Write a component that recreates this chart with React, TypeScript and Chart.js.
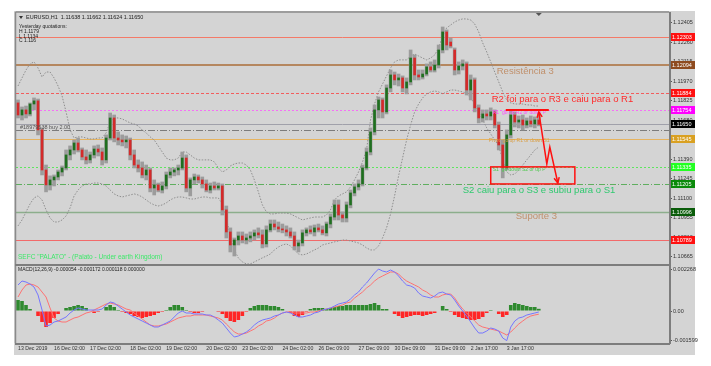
import React, { useEffect, useRef } from "react";
import { Chart, registerables } from "chart.js";

Chart.register(...registerables);

const FONT = '"Liberation Sans", Arial, sans-serif';

// ---- categories (one slot per candle, plus empty chart-shift slots on the right)
const SLOT_COUNT = 163;
const categories = Array.from({ length: SLOT_COUNT }, (_, i) => `slot ${i}`);

// ---- time axis labels
const timeLabels = [
  "13 Dec 2019", "16 Dec 02:00", "17 Dec 02:00", "18 Dec 02:00", "19 Dec 02:00",
  "20 Dec 02:00", "23 Dec 02:00", "24 Dec 02:00", "26 Dec 09:00", "27 Dec 09:00",
  "30 Dec 09:00", "31 Dec 09:00", "2 Jan 17:00", "3 Jan 17:00",
];
const timeLabelSlots = [0, 9, 18, 28, 37, 47, 56, 66, 75, 85, 94, 104, 113, 122];

// ---- EURUSD H1 candles
const opens = [
  1.11810, 1.11720, 1.11758, 1.11728, 1.11802, 1.11825, 1.11609, 1.11311, 1.11200, 1.11237,
  1.11259, 1.11296, 1.11326, 1.11423, 1.11460, 1.11512, 1.11460, 1.11408, 1.11386, 1.11423,
  1.11467, 1.11445, 1.11386, 1.11549, 1.11698, 1.11549, 1.11534, 1.11520, 1.11534, 1.11423,
  1.11348, 1.11326, 1.11274, 1.11311, 1.11177, 1.11200, 1.11162, 1.11192, 1.11274, 1.11296,
  1.11311, 1.11326, 1.11400, 1.11177, 1.11237, 1.11259, 1.11237, 1.11207, 1.11162, 1.11192,
  1.11177, 1.11192, 1.11014, 1.10850, 1.10753, 1.10790, 1.10820, 1.10790, 1.10805, 1.10820,
  1.10843, 1.10828, 1.10761, 1.10865, 1.10909, 1.10887, 1.10872, 1.10865, 1.10850, 1.10820,
  1.10746, 1.10768, 1.10843, 1.10865, 1.10850, 1.10880, 1.10865, 1.10843, 1.10909, 1.10961,
  1.11051, 1.10976, 1.10954, 1.11051, 1.11140, 1.11185, 1.11207, 1.11326, 1.11445, 1.11594,
  1.11758, 1.11832, 1.11743, 1.11921, 1.12018, 1.11981, 1.11996, 1.11921, 1.11966, 1.12144,
  1.12018, 1.12003, 1.12025, 1.12078, 1.12055, 1.12092, 1.12204, 1.12338, 1.12263, 1.12204,
  1.12055, 1.12085, 1.12100, 1.11906, 1.11981, 1.11773, 1.11698, 1.11728, 1.11713, 1.11743,
  1.11646, 1.11497, 1.11326, 1.11572, 1.11720, 1.11668, 1.11683, 1.11646, 1.11676, 1.11653,
  1.11683,
];
const highs = [
  1.11832, 1.11780, 1.11787, 1.11810, 1.11847, 1.11839, 1.11624, 1.11348, 1.11267, 1.11274,
  1.11311, 1.11341, 1.11460, 1.11490, 1.11534, 1.11549, 1.11475, 1.11460, 1.11445, 1.11490,
  1.11497, 1.11475, 1.11572, 1.11735, 1.11720, 1.11594, 1.11572, 1.11564, 1.11549, 1.11460,
  1.11386, 1.11371, 1.11348, 1.11326, 1.11237, 1.11214, 1.11222, 1.11296, 1.11326, 1.11326,
  1.11348, 1.11445, 1.11423, 1.11252, 1.11281, 1.11274, 1.11259, 1.11237, 1.11214, 1.11222,
  1.11214, 1.11207, 1.11043, 1.10880, 1.10805, 1.10850, 1.10850, 1.10835, 1.10850, 1.10865,
  1.10880, 1.10865, 1.10895, 1.10939, 1.10939, 1.10924, 1.10909, 1.10895, 1.10880, 1.10850,
  1.10790, 1.10865, 1.10880, 1.10895, 1.10902, 1.10909, 1.10895, 1.10924, 1.10984, 1.11088,
  1.11088, 1.10999, 1.11073, 1.11162, 1.11207, 1.11237, 1.11348, 1.11475, 1.11624, 1.11795,
  1.11854, 1.11847, 1.11944, 1.12055, 1.12040, 1.12025, 1.12011, 1.11996, 1.12204, 1.12167,
  1.12055, 1.12055, 1.12100, 1.12115, 1.12130, 1.12241, 1.12375, 1.12353, 1.12293, 1.12219,
  1.12115, 1.12130, 1.12115, 1.12018, 1.11996, 1.11795, 1.11758, 1.11758, 1.11773, 1.11758,
  1.11668, 1.11534, 1.11609, 1.11750, 1.11743, 1.11713, 1.11720, 1.11698, 1.11713, 1.11706,
  1.11735,
];
const lows = [
  1.11698, 1.11683, 1.11698, 1.11713, 1.11758, 1.11572, 1.11274, 1.11148, 1.11162, 1.11192,
  1.11237, 1.11267, 1.11311, 1.11386, 1.11430, 1.11445, 1.11386, 1.11356, 1.11363, 1.11400,
  1.11415, 1.11348, 1.11363, 1.11534, 1.11520, 1.11497, 1.11490, 1.11475, 1.11386, 1.11326,
  1.11296, 1.11252, 1.11237, 1.11148, 1.11125, 1.11148, 1.11140, 1.11170, 1.11252, 1.11267,
  1.11274, 1.11311, 1.11148, 1.11118, 1.11207, 1.11214, 1.11177, 1.11148, 1.11140, 1.11162,
  1.11162, 1.10976, 1.10805, 1.10701, 1.10671, 1.10753, 1.10768, 1.10761, 1.10776, 1.10790,
  1.10805, 1.10731, 1.10738, 1.10850, 1.10865, 1.10850, 1.10843, 1.10820, 1.10805, 1.10716,
  1.10701, 1.10746, 1.10820, 1.10835, 1.10820, 1.10850, 1.10828, 1.10820, 1.10880, 1.10939,
  1.10939, 1.10924, 1.10924, 1.11029, 1.11118, 1.11162, 1.11192, 1.11311, 1.11423, 1.11572,
  1.11698, 1.11698, 1.11728, 1.11892, 1.11944, 1.11936, 1.11892, 1.11877, 1.11944, 1.11981,
  1.11981, 1.11988, 1.12011, 1.12040, 1.12040, 1.12070, 1.12182, 1.12204, 1.12219, 1.12018,
  1.12025, 1.12055, 1.11869, 1.11832, 1.11743, 1.11661, 1.11668, 1.11683, 1.11683, 1.11624,
  1.11460, 1.11252, 1.11311, 1.11549, 1.11631, 1.11624, 1.11609, 1.11624, 1.11631, 1.11624,
  1.11639,
];
const closes = [
  1.11720, 1.11758, 1.11728, 1.11802, 1.11825, 1.11609, 1.11311, 1.11200, 1.11237, 1.11259,
  1.11296, 1.11326, 1.11423, 1.11460, 1.11512, 1.11460, 1.11408, 1.11386, 1.11423, 1.11467,
  1.11445, 1.11386, 1.11549, 1.11698, 1.11549, 1.11534, 1.11520, 1.11534, 1.11423, 1.11348,
  1.11326, 1.11274, 1.11311, 1.11177, 1.11200, 1.11162, 1.11192, 1.11274, 1.11296, 1.11311,
  1.11326, 1.11400, 1.11177, 1.11237, 1.11259, 1.11237, 1.11207, 1.11162, 1.11192, 1.11177,
  1.11192, 1.11014, 1.10850, 1.10753, 1.10790, 1.10820, 1.10790, 1.10805, 1.10820, 1.10843,
  1.10828, 1.10761, 1.10865, 1.10909, 1.10887, 1.10872, 1.10865, 1.10850, 1.10820, 1.10746,
  1.10768, 1.10843, 1.10865, 1.10850, 1.10880, 1.10865, 1.10843, 1.10909, 1.10961, 1.11051,
  1.10976, 1.10954, 1.11051, 1.11140, 1.11185, 1.11207, 1.11326, 1.11445, 1.11594, 1.11758,
  1.11832, 1.11743, 1.11921, 1.12018, 1.11981, 1.11996, 1.11921, 1.11966, 1.12144, 1.12018,
  1.12003, 1.12025, 1.12078, 1.12055, 1.12092, 1.12204, 1.12338, 1.12241, 1.12234, 1.12055,
  1.12085, 1.12100, 1.11906, 1.11981, 1.11773, 1.11698, 1.11728, 1.11713, 1.11743, 1.11646,
  1.11497, 1.11326, 1.11572, 1.11720, 1.11668, 1.11683, 1.11646, 1.11676, 1.11653, 1.11683,
  1.11650,
];

// ---- Bollinger bands (dotted envelopes)
const bandUpper = [
  1.11936, 1.11996, 1.12055, 1.12100, 1.12115, 1.12070, 1.12003, 1.12040, 1.12040, 1.11996,
  1.11936, 1.11862, 1.11743, 1.11609, 1.11549, 1.11557, 1.11557, 1.11549, 1.11542, 1.11542,
  1.11549, 1.11549, 1.11587, 1.11668, 1.11698, 1.11698, 1.11691, 1.11676, 1.11661, 1.11653,
  1.11639, 1.11609, 1.11587, 1.11557, 1.11534, 1.11490, 1.11445, 1.11400, 1.11386, 1.11386,
  1.11400, 1.11445, 1.11445, 1.11423, 1.11400, 1.11386, 1.11386, 1.11386, 1.11386, 1.11371,
  1.11326, 1.11296, 1.11311, 1.11341, 1.11356, 1.11363, 1.11363, 1.11348, 1.11311, 1.11237,
  1.11148, 1.11051, 1.10999, 1.10984, 1.10984, 1.10991, 1.10991, 1.10991, 1.10984, 1.10969,
  1.10954, 1.10939, 1.10947, 1.10954, 1.10961, 1.10961, 1.10961, 1.10976, 1.11014, 1.11088,
  1.11118, 1.11133, 1.11148, 1.11185, 1.11237, 1.11296, 1.11371, 1.11460, 1.11683, 1.11802,
  1.11892, 1.11951, 1.12011, 1.12070, 1.12115, 1.12130, 1.12130, 1.12130, 1.12159, 1.12174,
  1.12159, 1.12144, 1.12130, 1.12144, 1.12167, 1.12219, 1.12308, 1.12368, 1.12390, 1.12412,
  1.12427, 1.12435, 1.12435, 1.12427, 1.12397, 1.12338, 1.12256, 1.12189, 1.12115, 1.12040,
  1.11966, 1.11892, 1.11832, 1.11810, 1.11802, 1.11802, 1.11802, 1.11795, 1.11795, 1.11787,
  1.11787,
];
const bandLower = [
  1.10895, 1.10939, 1.10999, 1.11058, 1.11103, 1.11118, 1.11088, 1.11014, 1.10954, 1.10924,
  1.10924, 1.10939, 1.10969, 1.11029, 1.11118, 1.11162, 1.11192, 1.11207, 1.11207, 1.11214,
  1.11214, 1.11207, 1.11192, 1.11162, 1.11133, 1.11118, 1.11110, 1.11118, 1.11125, 1.11133,
  1.11125, 1.11110, 1.11088, 1.11066, 1.11051, 1.11043, 1.11051, 1.11066, 1.11088, 1.11103,
  1.11110, 1.11110, 1.11103, 1.11095, 1.11095, 1.11103, 1.11110, 1.11110, 1.11103, 1.11103,
  1.11103, 1.11058, 1.10954, 1.10820, 1.10716, 1.10657, 1.10627, 1.10612, 1.10612, 1.10627,
  1.10642, 1.10657, 1.10671, 1.10686, 1.10716, 1.10738, 1.10753, 1.10761, 1.10746, 1.10716,
  1.10686, 1.10679, 1.10686, 1.10701, 1.10716, 1.10731, 1.10753, 1.10761, 1.10768, 1.10776,
  1.10783, 1.10790, 1.10790, 1.10783, 1.10776, 1.10768, 1.10753, 1.10731, 1.10716, 1.10716,
  1.10746, 1.10805, 1.10880, 1.10984, 1.11118, 1.11267, 1.11400, 1.11534, 1.11646, 1.11743,
  1.11802, 1.11847, 1.11877, 1.11892, 1.11899, 1.11892, 1.11877, 1.11892, 1.11906, 1.11906,
  1.11899, 1.11892, 1.11877, 1.11847, 1.11802, 1.11743, 1.11683, 1.11624, 1.11579, 1.11534,
  1.11490, 1.11386, 1.11296, 1.11274, 1.11281, 1.11311, 1.11348, 1.11386, 1.11423, 1.11460,
  1.11482,
];

// ---- MACD(12,26,9)
const macdMain = [
  0.001404, 0.00162, 0.001566, 0.001458, 0.001296, 0.000864, 0.000054, -0.00081, -0.000756, -0.000594,
  -0.00054, -0.000432, -0.000324, -0.000108, 0.000054, 0.000162, 0.000108, 0.000054, 0.000054, 0.000054,
  0.000054, 0.000108, 0.000324, 0.000486, 0.000432, 0.00027, 0.000108, -0.000054, -0.000216, -0.000324,
  -0.000432, -0.00054, -0.000648, -0.000756, -0.000864, -0.000864, -0.000756, -0.000648, -0.00054, -0.000324,
  -0.000108, 0, -0.000108, -0.000108, -0.000162, -0.000162, -0.000162, -0.000216, -0.000216, -0.000324,
  -0.000486, -0.000648, -0.000918, -0.001188, -0.001404, -0.00135, -0.001242, -0.001134, -0.000972, -0.000756,
  -0.000594, -0.000486, -0.000432, -0.000378, -0.00027, -0.000216, -0.000108, -0.000054, -0.000108, -0.000216,
  -0.000324, -0.000324, -0.00027, -0.000216, -0.000108, -0.000054, 0.000054, 0.000108, 0.000162, 0.00027,
  0.000378, 0.000432, 0.000486, 0.000648, 0.000864, 0.001026, 0.001296, 0.001512, 0.001782, 0.002052,
  0.002268, 0.00216, 0.002106, 0.002214, 0.002106, 0.00189, 0.00162, 0.001404, 0.00135, 0.001242,
  0.000972, 0.00081, 0.000756, 0.000702, 0.00081, 0.000972, 0.001026, 0.000918, 0.000864, 0.000594,
  0.00027, 0, -0.00027, -0.000594, -0.000918, -0.001188, -0.001188, -0.00108, -0.000918, -0.000972,
  -0.00108, -0.001458, -0.001599, -0.000864, -0.00054, -0.000378, -0.000324, -0.000216, -0.000162, -0.000108,
  -0.000054,
];
const macdSignal = [
  0.000756, 0.001134, 0.001404, 0.001458, 0.001404, 0.001296, 0.001026, 0.000756, 0.000162, -0.000378,
  -0.00054, -0.000594, -0.000594, -0.000486, -0.000378, -0.000324, -0.000216, -0.000108, -0.000054, 0.000054,
  0.000162, 0.00027, 0.000378, 0.000432, 0.000378, 0.000324, 0.000216, 0.000108, 0.000054, -0.000108,
  -0.00027, -0.000432, -0.000594, -0.000756, -0.00081, -0.00081, -0.000756, -0.000702, -0.000594, -0.000486,
  -0.000378, -0.000324, -0.00027, -0.00027, -0.000216, -0.000216, -0.000216, -0.000216, -0.00027, -0.000324,
  -0.000378, -0.000486, -0.000702, -0.000918, -0.001134, -0.001242, -0.001242, -0.001188, -0.00108, -0.000972,
  -0.00081, -0.000702, -0.00054, -0.000486, -0.000378, -0.000216, -0.000108, -0.000054, -0.000054, -0.000108,
  -0.000108, -0.000108, -0.000108, -0.000054, -0.000054, 0, 0.000054, 0.000108, 0.000162, 0.000216,
  0.00027, 0.000324, 0.000432, 0.000486, 0.000702, 0.000864, 0.001026, 0.001242, 0.001404, 0.00162,
  0.001782, 0.00189, 0.001998, 0.002106, 0.002106, 0.001998, 0.001782, 0.00162, 0.001512, 0.001404,
  0.001296, 0.001134, 0.001026, 0.000864, 0.000756, 0.000756, 0.000864, 0.000918, 0.000918, 0.000702,
  0.000378, 0.000108, -0.000108, -0.000324, -0.00054, -0.000756, -0.000864, -0.000918, -0.000972, -0.001026,
  -0.00108, -0.001188, -0.001296, -0.001134, -0.000918, -0.000702, -0.00054, -0.000378, -0.00027, -0.000216,
  -0.000172,
];
const macdHist = [
  0.000594, 0.00054, 0.000324, 0.000108, 0, -0.00027, -0.000594, -0.000864, -0.000648, -0.000378,
  -0.000162, 0, 0.000162, 0.000216, 0.00027, 0.000324, 0.00027, 0.000162, 0, -0.000108,
  -0.000054, 0, 0.000216, 0.000324, 0.000216, 0.000054, -0.000054, -0.000108, -0.000162, -0.00027,
  -0.000324, -0.000378, -0.000324, -0.00027, -0.000216, -0.000108, -0.000054, 0.000054, 0.000216, 0.000324,
  0.000324, 0.000216, 0.000054, -0.000054, -0.000108, -0.000108, -0.000054, 0, 0, 0,
  -0.000054, -0.000162, -0.000378, -0.00054, -0.000594, -0.000486, -0.00027, -0.000054, 0.000162, 0.00027,
  0.000324, 0.000324, 0.000324, 0.00027, 0.00027, 0.000216, 0.000108, 0, -0.000108, -0.00027,
  -0.000324, -0.000216, -0.000054, 0.000108, 0.000162, 0.000162, 0.000162, 0.000108, 0.000162, 0.000216,
  0.00027, 0.00027, 0.000324, 0.000324, 0.000324, 0.000324, 0.000324, 0.000324, 0.000378, 0.000432,
  0.000324, 0.000108, 0.000108, 0, -0.000162, -0.00027, -0.000378, -0.000324, -0.00027, -0.000216,
  -0.000216, -0.00027, -0.000216, -0.000162, -0.000108, 0, 0.00027, 0.000108, -0.000054, -0.000216,
  -0.000324, -0.000378, -0.000432, -0.000486, -0.000486, -0.000432, -0.000324, -0.000108, 0.000054, 0,
  -0.000162, -0.000324, -0.000216, 0.000324, 0.000432, 0.000378, 0.000324, 0.00027, 0.000216, 0.000216,
  0.000118,
];

// ---- axes
const priceTicks = [
  1.12405, 1.1226, 1.12115, 1.1197, 1.11825, 1.1168, 1.11535, 1.1139, 1.11245, 1.111, 1.10955, 1.1081, 1.10665,
];
const priceMin = 1.10604;
const priceMax = 1.12479;
const macdTicks = [0.002268, 0, -0.001599];
const macdTickLabels = ["0.002268", "0.00", "-0.001599"];
const macdMin = -0.001728;
const macdMax = 0.002484;

// ---- horizontal levels (pivot levels, bid line)
const levelPrices = [1.12303, 1.12094, 1.11884, 1.11754, 1.1165, 1.11545, 1.11335, 1.11205, 1.10996, 1.10789];
const levelLineColors = ["#f47a68", "#b5875f", "#f25c5c", "#f570f5", "#a0a0aa", "#e6b35f", "#5ee65e", "#5fae5f", "#8cae8c", "#f26a6a"];
const levelLineWidths = [1, 2, 1, 1, 1, 1, 1, 1, 1.5, 1];
const levelDashes = [[], [], [3, 2], [2, 2], [], [], [2, 2], [6, 2, 1, 2], [], []];
const levelTagColors = ["#ff1010", "#8e4b1f", "#ff1010", "#ff00ff", "#000000", "#d9a021", "#22ff22", "#0b8a0b", "#0a5c0a", "#ff1010"];

// ---- open order line
const orderPrice = 1.11609;
const orderText = "#18979538 buy 2.00";

// ---- annotation texts (slot index, price)
const noteTexts = ["Resistência 3", "R2 foi para o R3 e caiu para o R1", "S2 caiu para o S3 e subiu para o S1", "Suporte 3"];
const noteSlots = [119.5, 118.25, 111, 124.25];
const notePrices = [1.12048, 1.11839, 1.11162, 1.10969];
const noteColors = ["#c0906b", "#ff2b2b", "#2fc96f", "#c0906b"];

const tagTexts = [
  "R1  go up R2 or down P",
  "Pivot  go up R1 or down S1",
  "S1  go down S2 or up P",
  orderText,
  'SEFC "PALATO" - (Palato - Under earth Kingdom)',
];
const tagSlots = [118.5, 117.5, 118.5, 0.5, 0];
const tagPrices = [1.11735, 1.11527, 1.11311, 1.11624, 1.10664];
const tagColors = ["#ff4dff", "#d9a04a", "#4fc84f", "#555555", "#3ee86a"];
const tagSizes = [5, 5, 5, 5.5, 6.5];

// ---- red hand-drawn marks
const boxSlots = [118, 139];
const boxPrices = [1.11334, 1.11207];
const barrierSlots = [121.75, 132.5];
const barrierPrice = 1.11758;
const arrowSlots = [130, 132, 132.75, 134.75];
const arrowPrices = [1.11743, 1.11356, 1.11482, 1.11214];

// ---- header texts
const headerLine = "EURUSD,H1  1.11638 1.11662 1.11624 1.11650";
const quoteLines = ["Yesterday quotations:", "H 1.1179", "L 1.1134", "C 1.116"];
const macdHeader = "MACD(12,26,9) -0.000054 -0.000172 0.000118 0.000000";

function txt(ctx: any, s: string, x: number, y: number, size: number, color: string, align = "left") {
  ctx.font = `${size}px ${FONT}`;
  ctx.fillStyle = color;
  ctx.textAlign = align;
  ctx.textBaseline = "middle";
  ctx.fillText(s, x, y);
}

function arrowHead(ctx: any, fx: number, fy: number, tx: number, ty: number, size: number) {
  const ang = Math.atan2(ty - fy, tx - fx);
  ctx.beginPath();
  ctx.moveTo(tx - size * Math.cos(ang - 0.45), ty - size * Math.sin(ang - 0.45));
  ctx.lineTo(tx, ty);
  ctx.lineTo(tx - size * Math.cos(ang + 0.45), ty - size * Math.sin(ang + 0.45));
  ctx.stroke();
}

const decor = {
  id: "mt4decor",
  beforeDraw(chart: any) {
    const { ctx, chartArea: a, width, height } = chart;
    ctx.save();
    ctx.fillStyle = "#ffffff";
    ctx.fillRect(0, 0, width, height);
    ctx.fillStyle = "#d4d4d4";
    ctx.fillRect(a.left - 2, a.top - 2, width - 16 - (a.left - 2), height - 11 - (a.top - 2));
    ctx.restore();
  },
  beforeDatasetsDraw(chart: any) {
    const { ctx, chartArea: a } = chart;
    const y = chart.scales.y;
    ctx.save();
    ctx.beginPath();
    ctx.rect(a.left, y.top, a.right - a.left, y.bottom - y.top);
    ctx.clip();
    levelPrices.forEach((p, k) => {
      const py = Math.round(y.getPixelForValue(p)) + (levelLineWidths[k] === 2 ? 0 : 0.5);
      ctx.strokeStyle = levelLineColors[k];
      ctx.lineWidth = levelLineWidths[k];
      ctx.setLineDash(levelDashes[k]);
      ctx.beginPath();
      ctx.moveTo(a.left, py);
      ctx.lineTo(a.right, py);
      ctx.stroke();
    });
    const oy = Math.round(y.getPixelForValue(orderPrice)) + 0.5;
    ctx.strokeStyle = "#7c7c7c";
    ctx.lineWidth = 1;
    ctx.setLineDash([7, 2, 1, 2]);
    ctx.beginPath();
    ctx.moveTo(a.left, oy);
    ctx.lineTo(a.right, oy);
    ctx.stroke();
    ctx.restore();
  },
  afterDatasetsDraw(chart: any) {
    const { ctx } = chart;
    const x = chart.scales.x;
    const y = chart.scales.y;
    ctx.save();
    tagTexts.forEach((s, k) => {
      txt(ctx, s, x.getPixelForValue(tagSlots[k]), y.getPixelForValue(tagPrices[k]), tagSizes[k], tagColors[k]);
    });
    noteTexts.forEach((s, k) => {
      txt(ctx, s, x.getPixelForValue(noteSlots[k]), y.getPixelForValue(notePrices[k]), 9.5, noteColors[k]);
    });
    ctx.strokeStyle = "#ff1010";
    ctx.lineWidth = 1.5;
    const bx0 = x.getPixelForValue(boxSlots[0]);
    const bx1 = x.getPixelForValue(boxSlots[1]);
    const by0 = y.getPixelForValue(boxPrices[0]);
    const by1 = y.getPixelForValue(boxPrices[1]);
    ctx.strokeRect(bx0, by0, bx1 - bx0, by1 - by0);
    ctx.lineWidth = 2;
    const ly = y.getPixelForValue(barrierPrice);
    ctx.beginPath();
    ctx.moveTo(x.getPixelForValue(barrierSlots[0]), ly);
    ctx.lineTo(x.getPixelForValue(barrierSlots[1]), ly);
    ctx.stroke();
    ctx.lineWidth = 1.5;
    const pts = arrowSlots.map((s, k) => [x.getPixelForValue(s), y.getPixelForValue(arrowPrices[k])]);
    ctx.beginPath();
    pts.forEach(([px, py], k) => (k === 0 ? ctx.moveTo(px, py) : ctx.lineTo(px, py)));
    ctx.stroke();
    arrowHead(ctx, pts[1][0], pts[1][1], pts[0][0], pts[0][1], 6);
    arrowHead(ctx, pts[2][0], pts[2][1], pts[3][0], pts[3][1], 6);
    ctx.restore();
  },
  afterDraw(chart: any) {
    const { ctx, chartArea: a } = chart;
    const y = chart.scales.y;
    const y2 = chart.scales.y2;
    const x = chart.scales.x;
    ctx.save();
    ctx.strokeStyle = "#8a8a8a";
    ctx.lineWidth = 1.5;
    ctx.beginPath();
    ctx.moveTo(a.left - 0.5, a.top - 1);
    ctx.lineTo(a.right, a.top - 1);
    ctx.moveTo(a.left - 0.5, a.top - 1);
    ctx.lineTo(a.left - 0.5, a.bottom);
    ctx.stroke();
    ctx.strokeStyle = "#7d7d7d";
    ctx.lineWidth = 2;
    ctx.beginPath();
    ctx.moveTo(a.right + 1, a.top - 1);
    ctx.lineTo(a.right + 1, a.bottom + 1);
    ctx.moveTo(a.left - 1, y.bottom);
    ctx.lineTo(a.right + 1, y.bottom);
    ctx.moveTo(a.left - 1, a.bottom + 1);
    ctx.lineTo(a.right + 1, a.bottom + 1);
    ctx.stroke();
    levelPrices.forEach((p, k) => {
      const py = Math.round(y.getPixelForValue(p));
      ctx.fillStyle = levelTagColors[k];
      ctx.fillRect(a.right + 2, py - 4, 24, 8);
      txt(ctx, p.toFixed(5), a.right + 3, py + 0.5, 5.5, "#ffffff");
    });
    ctx.fillStyle = "#333";
    ctx.beginPath();
    ctx.moveTo(a.left + 3, a.top + 3);
    ctx.lineTo(a.left + 7, a.top + 3);
    ctx.lineTo(a.left + 5, a.top + 6);
    ctx.closePath();
    ctx.fill();
    txt(ctx, headerLine, a.left + 10, a.top + 4.5, 5.5, "#222");
    quoteLines.forEach((s, k) => txt(ctx, s, a.left + 3, a.top + 14 + k * 4.7, 5, "#222"));
    txt(ctx, macdHeader, a.left + 2, y2.top + 5, 5, "#222");
    const sx = x.getPixelForValue(130);
    ctx.fillStyle = "#555";
    ctx.beginPath();
    ctx.moveTo(sx - 3, a.top);
    ctx.lineTo(sx + 3, a.top);
    ctx.lineTo(sx, a.top + 3);
    ctx.closePath();
    ctx.fill();
    ctx.restore();
  },
};

export default function App() {
  const ref = useRef<HTMLCanvasElement | null>(null);
  useEffect(() => {
    const canvas = ref.current;
    if (!canvas) return;
    const wicks = lows.map((l, i) => [l, highs[i]]);
    const bodies = opens.map((o, i) => [o, closes[i]]);
    const bodyColors = opens.map((o, i) => (closes[i] >= o ? "#1f6f1f" : "#d42a2a"));
    const histColors = macdHist.map((v) => (v >= 0 ? "#2f8a2f" : "#ff2626"));
    const axisFont = { family: FONT, size: 5.5 };
    const zeroPad = (s: any) => {
      s.paddingTop = 0;
      s.paddingBottom = 0;
      s.paddingLeft = 0;
      s.paddingRight = 0;
    };
    const bandStyle = {
      type: "line",
      yAxisID: "y",
      borderColor: "#8e8e8e",
      borderWidth: 1,
      borderDash: [1.5, 1.5],
      pointRadius: 0,
      fill: false,
      order: 6,
    };
    const chart = new Chart(canvas, {
      type: "bar",
      data: {
        labels: categories,
        datasets: [
          { type: "line", label: "MACD", data: macdMain, yAxisID: "y2", borderColor: "#7676ff", borderWidth: 1, pointRadius: 0, order: 0 },
          { type: "line", label: "Signal", data: macdSignal, yAxisID: "y2", borderColor: "#ff7272", borderWidth: 1, pointRadius: 0, order: 1 },
          {
            type: "bar",
            label: "Histogram",
            data: macdHist,
            yAxisID: "y2",
            backgroundColor: histColors,
            barPercentage: 0.9,
            categoryPercentage: 1,
            grouped: false,
            order: 2,
          },
          {
            type: "bar",
            label: "Body",
            data: bodies,
            yAxisID: "y",
            backgroundColor: bodyColors,
            barThickness: 2,
            minBarLength: 1,
            grouped: false,
            order: 3,
          },
          {
            type: "bar",
            label: "Wick",
            data: wicks,
            yAxisID: "y",
            backgroundColor: "#9c9c9c",
            barThickness: 3,
            grouped: false,
            order: 4,
          },
          { ...bandStyle, label: "BB upper", data: bandUpper },
          { ...bandStyle, label: "BB lower", data: bandLower },
        ] as any,
      },
      options: {
        responsive: false,
        devicePixelRatio: 1,
        animation: false,
        events: [],
        layout: { padding: { left: 16, top: 13, right: 12, bottom: 9 } },
        plugins: { legend: { display: false }, tooltip: { enabled: false } },
        scales: {
          x: {
            type: "category",
            offset: true,
            grid: { display: true, drawOnChartArea: false, drawTicks: true, tickLength: 2, color: "#555", offset: false },
            border: { display: false },
            ticks: {
              autoSkip: false,
              maxRotation: 0,
              minRotation: 0,
              align: "start",
              padding: 0,
              font: { family: FONT, size: 5.2 },
              color: "#333",
              callback: (v: any) => {
                const k = timeLabelSlots.indexOf(Number(v));
                return k >= 0 ? timeLabels[k] : "";
              },
            },
            afterBuildTicks: (s: any) => {
              s.ticks = timeLabelSlots.map((v) => ({ value: v }));
            },
            afterFit: (s: any) => {
              s.height = 14;
              zeroPad(s);
            },
          },
          y: {
            type: "linear",
            position: "right",
            stack: "panes",
            stackWeight: 252,
            weight: 0,
            min: priceMin,
            max: priceMax,
            grid: { display: true, drawOnChartArea: false, drawTicks: true, tickLength: 3, color: "#555" },
            border: { display: false },
            ticks: {
              padding: 1,
              font: axisFont,
              color: "#333",
              callback: (v: any) => Number(v).toFixed(5),
            },
            afterBuildTicks: (s: any) => {
              s.ticks = priceTicks.map((v) => ({ value: v }));
            },
            afterFit: (s: any) => {
              s.width = 30;
              zeroPad(s);
            },
          },
          y2: {
            type: "linear",
            position: "right",
            stack: "panes",
            stackWeight: 78,
            weight: 1,
            min: macdMin,
            max: macdMax,
            grid: { display: true, drawOnChartArea: false, drawTicks: true, tickLength: 3, color: "#555" },
            border: { display: false },
            ticks: {
              padding: 1,
              font: axisFont,
              color: "#333",
              callback: (_v: any, i: number) => macdTickLabels[i],
            },
            afterBuildTicks: (s: any) => {
              s.ticks = macdTicks.map((v) => ({ value: v }));
            },
            afterFit: (s: any) => {
              s.width = 30;
              zeroPad(s);
            },
          },
        },
      } as any,
      plugins: [decor],
    });
    return () => chart.destroy();
  }, []);
  return (
    <div style={{ position: "absolute", left: 0, top: 0, width: 711, height: 366 }}>
      <canvas ref={ref} width={711} height={366} style={{ display: "block", width: 711, height: 366 }} />
    </div>
  );
}
